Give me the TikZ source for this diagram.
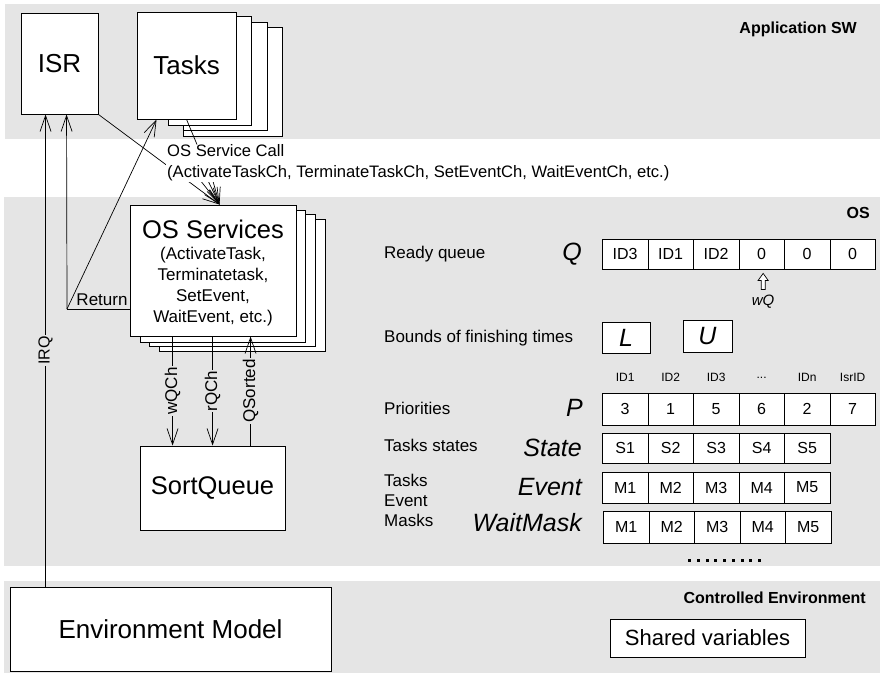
\documentclass[tikz,border=0pt]{standalone}
\usepackage{fontspec}
\setmainfont{Liberation Sans}
\usetikzlibrary{arrows.meta,calc}
\definecolor{bandgray}{RGB}{229,229,229}
\newcommand\fsz[2]{\fontsize{#1}{#2}\selectfont}
\begin{document}
\begin{tikzpicture}[x=1pt,y=-1pt,
 box/.style={draw,fill=white,line width=0.9pt,inner sep=0pt},
 arr/.style={line width=0.7pt,-{Straight Barb[length=16pt,width=11pt]}},
 conn/.style={line width=0.7pt},
 lbl/.style={fill=bandgray,inner sep=1pt,font=\fsz{17}{20}},
 cell/.style={draw,fill=white,line width=0.8pt,minimum width=45.5pt,minimum height=31pt,inner sep=0pt,anchor=west,font=\fsz{16}{19}},
 ital/.style={font=\fsz{25}{28}\itshape,inner sep=0pt},
 rowlbl/.style={font=\fsz{17}{20},inner sep=0pt,anchor=west,align=left},
 hdr/.style={font=\fsz{12}{14},inner sep=0pt},
 bandlbl/.style={font=\fsz{16}{19}\bfseries,inner sep=0pt,anchor=east},
 ]
\useasboundingbox (0,0) rectangle (883,675);
% bands
\fill[bandgray] (5,4) rectangle (880,139);
\fill[bandgray] (4,197) rectangle (880,566);
\fill[bandgray] (4,581) rectangle (880,673);
\node[bandlbl] (appsw) at (857,29) {Application SW};
\node[bandlbl] (oslbl) at (870,213) {OS};
\node[bandlbl] (celbl) at (866,598) {Controlled Environment};

% ISR and Tasks
\node[box,minimum width=77pt,minimum height=101pt,font=\fsz{26}{30}] (isr) at (59.5,63.5) {ISR};
\draw[box] (183,27) rectangle (282,136);
\draw[box] (183,22) rectangle (267,130);
\draw[box] (168,16) rectangle (251,125);
\node[box,minimum width=99pt,minimum height=107pt,font=\fsz{26}{30}] (tasks) at (186.5,65.5) {Tasks};

% OS Services stack
\draw[box] (159,219) rectangle (325,351);
\draw[box] (149,214) rectangle (315,346);
\draw[box] (140,210) rectangle (305,342);
\node[box,minimum width=166pt,minimum height=131pt] (os) at (213,270.5) {};
\node[font=\fsz{25.5}{30},inner sep=0pt] (ostitle) at (213,229) {OS Services};
\node[font=\fsz{17}{21},align=center,inner sep=0pt] (oslist) at (213,286.5) {(ActivateTask,\\Terminatetask,\\SetEvent,\\WaitEvent, etc.)};

% SortQueue
\node[box,minimum width=145pt,minimum height=84pt,font=\fsz{25.5}{30}] (sq) at (212.5,488) {SortQueue};

% Environment
\node[box,minimum width=321pt,minimum height=84pt,font=\fsz{26}{30}] (env) at (170.5,629) {Environment Model};
\node[box,minimum width=195pt,minimum height=38pt,font=\fsz{22}{26}] (shv) at (707.5,638) {Shared variables};

% coordinates
\path (isr.south west) ++(25,0) coordinate (isrA) ++(21,0) coordinate (isrB);
\coordinate (retC) at (67,309);
\coordinate (retS) at (os.west |- retC);
\coordinate (tasksIn) at ($(tasks.south west)+(20,0)$);
\coordinate (osIn) at ($(os.north west)+(90,0)$);

% IRQ
\draw[arr] (isrA |- env.north) -- node[lbl,rotate=90,font=\fsz{16}{19}]{IRQ} (isrA);
% Return
\draw[conn] (retS) -- (retC);
\draw[arr] (retC) -- (isrB);
\draw[arr] (retC) -- (tasksIn);
\node[font=\fsz{17}{20},inner sep=0pt] (retlbl) at (102,300) {Return};

% OS service call
\coordinate (f1) at (188,165);
\coordinate (f2) at (198,160);
\coordinate (f3) at (207,160);
\draw[arr] (isr.south east) -- (osIn);
\draw[arr] (f1) -- (osIn);
\draw[arr] (f2) -- (osIn);
\draw[arr] (f3) -- (osIn);
\node[fill=white,inner sep=1pt,anchor=north west,align=left,font=\fsz{16.6}{21}] (svc) at (166,143.5) {OS Service Call\\(ActivateTaskCh, TerminateTaskCh, SetEventCh, WaitEventCh, etc.)};
\draw[conn] ($(tasks.south west)+(50,0)$) -- ($(svc.north west)+(31,1)$);

% OS <-> SortQueue
\coordinate (w1) at ($(os.south west)+(43,0)$);
\coordinate (r1) at ($(os.south west)+(83,0)$);
\coordinate (qs1) at ($(os.south west)+(121,0)$);
\draw[arr] (w1) -- node[lbl,rotate=90]{wQCh} (w1 |- sq.north);
\draw[arr] (r1) -- node[lbl,rotate=90]{rQCh} (r1 |- sq.north);
\draw[arr] (qs1 |- sq.north) -- node[lbl,rotate=90]{QSorted} (qs1);

% Ready queue
\node[rowlbl] (rq) at (384,254) {Ready queue};
\node[ital,anchor=east] (Qs) at (582,254) {Q};
\foreach \v [count=\i] in {ID3,ID1,ID2,0,0,0}
  \node[cell,minimum height=30pt] (q\i) at (602+45.5*\i-45.5,254) {\v};
\coordinate (wqT) at ($(q4.south)+(1.5,4)$);
\draw[line width=0.7pt,fill=white] (wqT) -- ++(-5,7) -- ++(3,0) -- ++(0,9) -- ++(4,0) -- ++(0,-9) -- ++(3,0) -- cycle;
\node[font=\fsz{15}{18}\itshape,inner sep=0pt] (wq) at (763,302) {wQ};

% Bounds
\node[rowlbl] (bft) at (384,338) {Bounds of finishing times};
\node[draw,fill=white,line width=0.8pt,minimum width=48pt,minimum height=31pt,ital] (Lb) at (626,337.5) {L};
\node[draw,fill=white,line width=0.8pt,minimum width=49pt,minimum height=32pt,ital] (Ub) at (707.5,336) {U};

% Priorities
\node[rowlbl] (prl) at (384,408) {Priorities};
\node[ital,anchor=east] (Ps) at (583,408) {P};
\foreach \v [count=\i] in {3,1,5,6,2,7}
  \node[cell,minimum height=32pt] (p\i) at (602+45.5*\i-45.5,409) {\v};
\node[hdr] (h1) at ($(p1.north)+(0,-15)$) {ID1};
\node[hdr] (h2) at ($(p2.north)+(0,-15)$) {ID2};
\node[hdr] (h3) at ($(p3.north)+(0,-15)$) {ID3};
\node[hdr] (h4) at ($(p4.north)+(0,-15)$) {...};
\node[hdr] (h5) at ($(p5.north)+(0,-15)$) {IDn};
\node[hdr] (h6) at ($(p6.north)+(0,-15)$) {IsrID};

% States
\node[rowlbl] (tsl) at (384,445) {Tasks states};
\node[ital,anchor=east] (Ss) at (582,448) {State};
\foreach \v [count=\i] in {S1,S2,S3,S4,S5}
  \node[cell,minimum height=30pt] (s\i) at (602+45.5*\i-45.5,448) {\v};

% Event masks
\node[rowlbl,font=\fsz{17}{20}] (tem) at (384,500) {Tasks\\Event\\Masks};
\node[ital,anchor=east] (Es) at (582,487) {Event};
\foreach \v [count=\i] in {M1,M2,M3,M4,M5}
  \node[cell] (e\i) at (602+45.5*\i-45.5,487.5) {\v};
\node[ital,anchor=east] (Ws) at (582,523) {WaitMask};
\foreach \v [count=\i] in {M1,M2,M3,M4,M5}
  \node[cell,minimum height=32pt] (m\i) at (603+45.5*\i-45.5,527) {\v};

% dots
\foreach \k in {0,...,8}
  \fill (688+8.75*\k,558.5) rectangle ++(3,3);
\end{tikzpicture}
\end{document}
